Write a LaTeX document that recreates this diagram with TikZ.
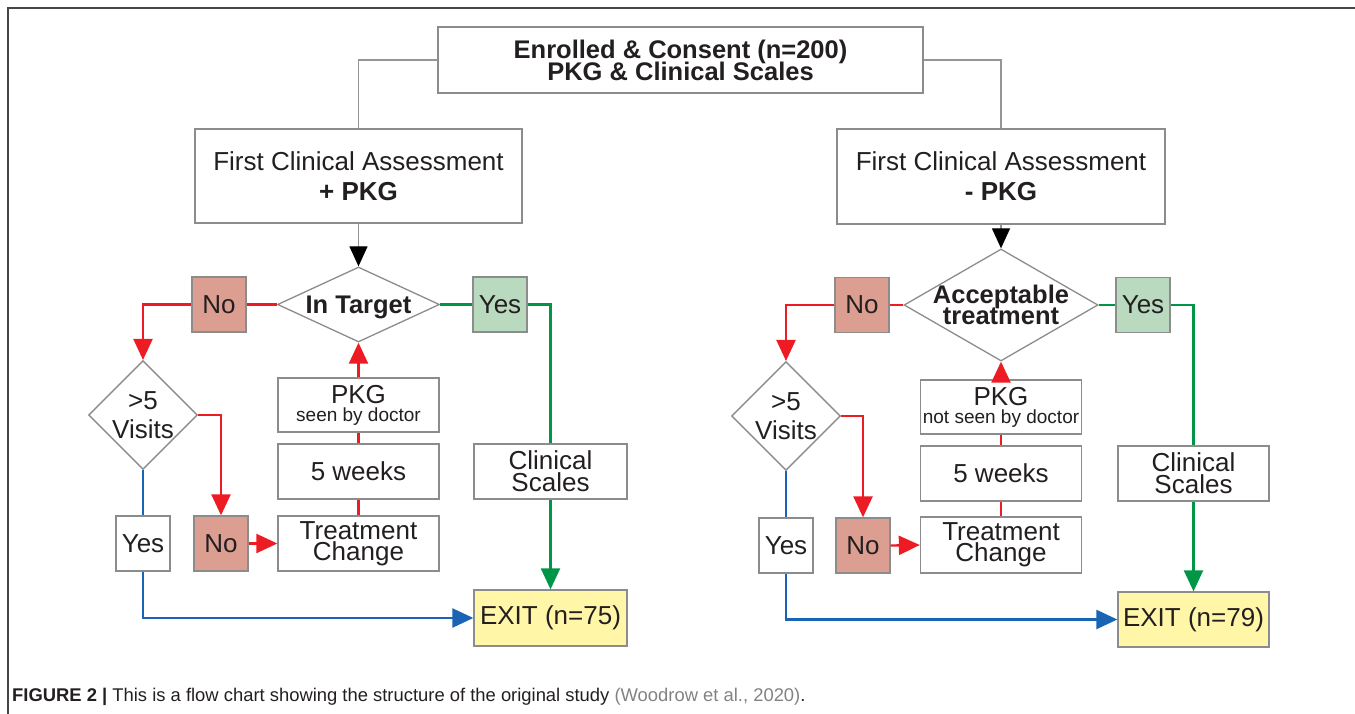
\documentclass[tikz,border=0pt]{standalone}
\usepackage{fontspec}
\setmainfont{Liberation Sans}
\usetikzlibrary{arrows.meta,shapes.geometric}

\definecolor{boxgray}{RGB}{140,140,140}
\definecolor{linegray}{RGB}{150,150,150}
\definecolor{framegray}{RGB}{70,70,70}
\definecolor{textdark}{RGB}{35,31,32}
\definecolor{citegray}{RGB}{130,130,130}
\definecolor{myred}{RGB}{237,28,36}
\definecolor{mygreen}{RGB}{0,150,70}
\definecolor{myblue}{RGB}{25,100,180}
\definecolor{nofill}{RGB}{220,158,145}
\definecolor{yesfill}{RGB}{185,218,190}
\definecolor{exitfill}{RGB}{255,246,168}

\newcommand\tightlines{\lineskiplimit-30pt\relax}

\begin{document}
\begin{tikzpicture}[x=1pt,y=-1pt,
    lead/.style={font=\fontsize{26}{#1}\selectfont\tightlines},
    boldlead/.style={font=\bfseries\fontsize{25.5}{#1}\selectfont\tightlines},
    box/.style={draw=boxgray,line width=1.3pt,fill=white,inner sep=0pt,
      align=center,text=textdark,lead=29},
    answer/.style={box,minimum width=54pt,minimum height=55pt},
    decide/.style={box,diamond,boldlead=21},
    redline/.style={draw=myred,line width=2.3pt},
    greenline/.style={draw=mygreen,line width=2.3pt},
    blueline/.style={draw=myblue,line width=2.3pt},
    grayline/.style={draw=linegray,line width=1.3pt},
    arr/.style={-{Triangle[length=21pt,width=19pt]}},
  ]
  \useasboundingbox (0,0) rectangle (1355,714);

  % frame
  \draw[framegray,line width=1.6pt] (1355,8) -- (8,8) -- (8,714);

  % top
  \node[box,boldlead=22,minimum width=485pt,minimum height=66pt] (enroll) at (680.5,60)
    {Enrolled \& Consent (n=200)\\PKG \& Clinical Scales};

  % left branch: + PKG
  \node[box,lead=30,minimum width=327pt,minimum height=94pt] (fcaL) at (358.5,176)
    {First Clinical Assessment\\\textbf{+ PKG}};
  \node[decide,text depth=0pt,shape aspect=2.16,minimum width=162pt,minimum height=75pt] (decL) at (358.5,304.5) {In Target};
  \node[answer,fill=nofill] (noL) at (219,304.5) {No};
  \node[answer,fill=yesfill] (yesL) at (500,304.5) {Yes};
  \node[box,diamond,minimum width=108pt,minimum height=108pt] (visL) at (143,415) {>5\\Visits};
  \node[box,lead=18,minimum width=161pt,minimum height=54pt] (pkgL) at (358.5,405)
    {PKG\\{\fontsize{19}{19}\selectfont seen by doctor}};
  \node[box,minimum width=161pt,minimum height=55pt] (wkL) at (358.5,471.5) {5 weeks};
  \node[box,lead=21,minimum width=161pt,minimum height=55pt] (trtL) at (358.5,543.5) {Treatment\\Change};
  \node[answer,fill=nofill] (no2L) at (221,543.5) {No};
  \node[answer] (yes2L) at (143,543.5) {Yes};
  \node[box,lead=22,minimum width=153pt,minimum height=55pt] (clinL) at (550.5,471.5) {Clinical\\Scales};
  \node[box,fill=exitfill,minimum width=153pt,minimum height=56pt] (exitL) at (550.5,618) {EXIT (n=75)};

  % right branch: - PKG
  \node[box,lead=30,minimum width=328pt,minimum height=95pt] (fcaR) at (1001,176.5)
    {First Clinical Assessment\\\textbf{- PKG}};
  \node[decide,shape aspect=1.73,inner sep=-2.6pt,minimum width=194pt,minimum height=112pt] (decR) at (1001,305)
    {Acceptable\\treatment};
  \node[answer,fill=nofill] (noR) at (862,305) {No};
  \node[answer,fill=yesfill] (yesR) at (1143,305) {Yes};
  \node[box,diamond,minimum width=108pt,minimum height=108pt] (visR) at (786,416) {>5\\Visits};
  \node[box,lead=18,minimum width=161pt,minimum height=54pt] (pkgR) at (1001,407)
    {PKG\\{\fontsize{19}{19}\selectfont not seen by doctor}};
  \node[box,minimum width=161pt,minimum height=55pt] (wkR) at (1001,473.5) {5 weeks};
  \node[box,lead=21,minimum width=161pt,minimum height=56pt] (trtR) at (1001,545) {Treatment\\Change};
  \node[answer,fill=nofill] (no2R) at (863,545.5) {No};
  \node[answer] (yes2R) at (786,545.5) {Yes};
  \node[box,lead=22,minimum width=151pt,minimum height=55pt] (clinR) at (1193.5,473.5) {Clinical\\Scales};
  \node[box,fill=exitfill,minimum width=151pt,minimum height=55pt] (exitR) at (1193.5,619.5) {EXIT (n=79)};

  % connectors
  \draw[grayline] (enroll.west) -| (fcaL.north);
  \draw[grayline] (enroll.east) -| (fcaR.north);
  \foreach \s in {L,R}{
    \draw[grayline,-{Triangle[length=20pt,width=18pt,color=black]}] (fca\s.south) -- (dec\s.north);
    \draw[redline] (dec\s.west) -- (no\s.east);
    \draw[redline,arr] (no\s.west) -| (vis\s.north);
    \draw[redline,arr] (vis\s.east) -| (no2\s.north);
    \draw[redline,arr] (no2\s.east) -- (trt\s.west);
    \draw[redline] (trt\s.north) -- (wk\s.south) (wk\s.north) -- (pkg\s.south);
    \draw[redline,arr] (pkg\s.north) -- (dec\s.south);
    \draw[greenline] (dec\s.east) -- (yes\s.west);
    \draw[greenline] (yes\s.east) -| (clin\s.north);
    \draw[greenline,arr] (clin\s.south) -- (exit\s.north);
    \draw[blueline] (vis\s.south) -- (yes2\s.north);
    \draw[blueline,arr] (yes2\s.south) |- (exit\s.west);
  }

  % caption
  \node[anchor=base west,inner sep=0pt,text=textdark,font=\fontsize{18.4}{22}\selectfont] (caption) at (12,701)
    {\textbf{FIGURE 2 |} This is a flow chart showing the structure of the original study \textcolor{citegray}{(Woodrow et al., 2020)}.};
\end{tikzpicture}
\end{document}
